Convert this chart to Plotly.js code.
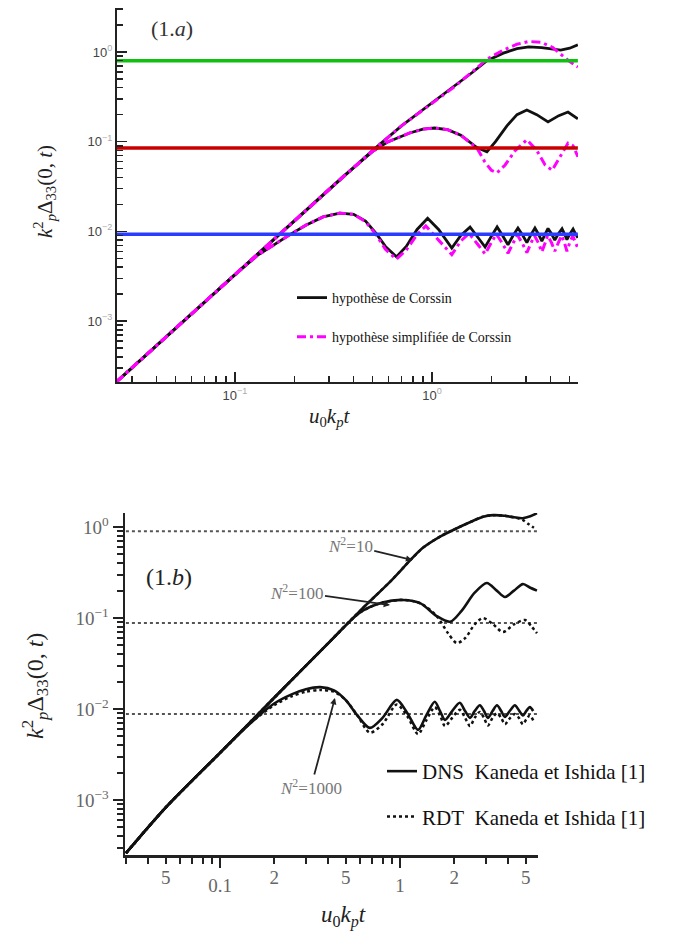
<!DOCTYPE html>
<html><head><meta charset="utf-8">
<script src="https://cdn.plot.ly/plotly-3.0.1.min.js"></script>
<style>html,body{margin:0;padding:0;background:#fff;}#chart{width:678px;height:946px;}</style>
</head><body><div id="chart"></div>
<script>
// ---------- (1.a) data ----------
const aSpan = [0.025, 5.5];
const aLevels = [0.8, 0.085, 0.0093];            // green, red, blue asymptotes

const aX10 = [0.025, 0.05, 0.1, 0.2, 0.35, 0.5, 0.7, 1.0, 1.3, 1.6, 1.9, 2.3, 2.7, 3.1, 3.6, 4.1, 4.5, 5.0, 5.5];
const aCor10 = [2.1e-4, 8.3e-4, 3.3e-3, 0.0133, 0.04, 0.08, 0.15, 0.27, 0.41, 0.59, 0.8, 0.97, 1.09, 1.14, 1.12, 1.07, 1.05, 1.1, 1.2];
const aSim10 = [2.1e-4, 8.3e-4, 3.3e-3, 0.0133, 0.04, 0.08, 0.15, 0.27, 0.41, 0.6, 0.83, 1.05, 1.22, 1.31, 1.28, 1.12, 0.95, 0.78, 0.68];

const aX100c = [0.025, 0.05, 0.1, 0.2, 0.35, 0.5, 0.6, 0.77, 0.9, 1.03, 1.2, 1.4, 1.55, 1.69, 1.9, 2.1, 2.4, 2.7, 3.03, 3.4, 3.88, 4.4, 4.9, 5.5];
const aCor100 = [2.1e-4, 8.3e-4, 3.3e-3, 0.0133, 0.04, 0.078, 0.1, 0.125, 0.138, 0.142, 0.136, 0.118, 0.1, 0.086, 0.077, 0.1, 0.15, 0.2, 0.225, 0.2, 0.166, 0.195, 0.214, 0.18];
const aX100s = [0.025, 0.05, 0.1, 0.2, 0.35, 0.5, 0.6, 0.77, 0.9, 1.03, 1.2, 1.4, 1.55, 1.69, 1.85, 2.0, 2.14, 2.35, 2.65, 3.03, 3.4, 3.75, 4.07, 4.4, 4.9, 5.2, 5.5];
const aSim100 = [2.1e-4, 8.3e-4, 3.3e-3, 0.0133, 0.04, 0.078, 0.1, 0.125, 0.138, 0.142, 0.136, 0.118, 0.1, 0.085, 0.06, 0.048, 0.045, 0.055, 0.08, 0.105, 0.08, 0.055, 0.048, 0.065, 0.096, 0.09, 0.068];

const aX1000c = [0.025, 0.05, 0.1, 0.13, 0.16, 0.19, 0.23, 0.28, 0.34, 0.4, 0.46, 0.52, 0.58, 0.66, 0.74, 0.84, 0.95, 1.08, 1.26, 1.4, 1.56, 1.72, 1.86, 2.0, 2.14, 2.28, 2.43, 2.58, 2.73, 2.88, 3.03, 3.18, 3.33, 3.47, 3.61, 3.75, 3.88, 4.04, 4.2, 4.38, 4.57, 4.7, 4.84, 5.0, 5.2, 5.35, 5.5];
const aCor1000 = [2.1e-4, 8.3e-4, 3.3e-3, 5.4e-3, 7.3e-3, 9.2e-3, 0.0118, 0.0145, 0.016, 0.0155, 0.013, 0.0095, 0.0068, 0.0052, 0.0068, 0.0105, 0.014, 0.0105, 0.0065, 0.009, 0.0112, 0.0085, 0.0067, 0.0088, 0.0112, 0.009, 0.0071, 0.009, 0.0109, 0.0091, 0.0075, 0.0092, 0.0109, 0.0093, 0.0078, 0.0093, 0.0108, 0.0094, 0.008, 0.0094, 0.0107, 0.0094, 0.0081, 0.0093, 0.0106, 0.0094, 0.0085];
const aX1000s = [0.025, 0.05, 0.1, 0.13, 0.16, 0.19, 0.23, 0.28, 0.34, 0.4, 0.46, 0.52, 0.58, 0.66, 0.74, 0.84, 0.93, 1.08, 1.26, 1.4, 1.54, 1.72, 1.86, 2.0, 2.12, 2.28, 2.43, 2.58, 2.71, 2.88, 3.03, 3.18, 3.31, 3.47, 3.61, 3.75, 3.86, 4.04, 4.2, 4.38, 4.55, 4.7, 4.84, 5.0, 5.18, 5.35, 5.5];
const aSim1000 = [2.1e-4, 8.3e-4, 3.3e-3, 5.4e-3, 7.3e-3, 9.2e-3, 0.0118, 0.0145, 0.016, 0.0155, 0.0128, 0.0092, 0.0063, 0.0049, 0.0062, 0.0092, 0.0115, 0.008, 0.0055, 0.0078, 0.0095, 0.007, 0.0056, 0.0075, 0.0093, 0.0073, 0.0057, 0.0074, 0.0091, 0.0073, 0.0058, 0.0074, 0.009, 0.0074, 0.0059, 0.0074, 0.009, 0.0075, 0.006, 0.0075, 0.009, 0.0075, 0.006, 0.0075, 0.0089, 0.0075, 0.0065];

const aTickVals = [0.1, 1];
const aTickText = ['10<sup><span style="color:#aaa">−1</span></sup>', '10<sup><span style="color:#aaa">0</span></sup>'];
const aYTickVals = [0.001, 0.01, 0.1, 1];
const aYTickText = ['10<sup><span style="color:#aaa">−3</span></sup>', '10<sup><span style="color:#aaa">−2</span></sup>', '10<sup><span style="color:#aaa">−1</span></sup>', '10<sup><span style="color:#aaa">0</span></sup>'];

// ---------- (1.b) data ----------
const bSpan = [0.03, 5.8];
const bLevels = [0.9, 0.088, 0.0088];

const bX10 = [0.03, 0.05, 0.1, 0.2, 0.4, 0.6, 0.88, 1.34, 1.7, 2.07, 2.5, 2.9, 3.3, 3.8, 4.3, 4.8, 5.3, 5.77];
const bDns10 = [2.6e-4, 8.3e-4, 3.3e-3, 0.0133, 0.053, 0.12, 0.25, 0.59, 0.8, 0.97, 1.15, 1.3, 1.35, 1.33, 1.28, 1.25, 1.31, 1.42];
const bXr10 = [0.03, 0.05, 0.1, 0.2, 0.4, 0.6, 0.88, 1.34, 1.7, 2.07, 2.5, 2.9, 3.3, 3.8, 4.3, 4.8, 5.2, 5.55];
const bRdt10 = [2.6e-4, 8.3e-4, 3.3e-3, 0.0133, 0.053, 0.12, 0.25, 0.59, 0.8, 0.97, 1.15, 1.3, 1.35, 1.33, 1.28, 1.2, 1.07, 0.98];

const bX100 = [0.03, 0.05, 0.1, 0.2, 0.4, 0.6, 0.8, 1.04, 1.3, 1.6, 1.9, 2.2, 2.6, 3.04, 3.45, 3.83, 4.3, 4.82, 5.3, 5.77];
const bDns100 = [2.6e-4, 8.3e-4, 3.3e-3, 0.0133, 0.053, 0.115, 0.148, 0.158, 0.145, 0.105, 0.091, 0.12, 0.19, 0.243, 0.2, 0.17, 0.2, 0.236, 0.215, 0.2];
const bXr100 = [0.03, 0.05, 0.1, 0.2, 0.4, 0.6, 0.8, 1.04, 1.3, 1.6, 1.85, 2.07, 2.3, 2.6, 2.89, 3.3, 3.73, 4.3, 4.95, 5.4, 5.77];
const bRdt100 = [2.6e-4, 8.3e-4, 3.3e-3, 0.0133, 0.053, 0.115, 0.148, 0.158, 0.145, 0.105, 0.068, 0.053, 0.06, 0.085, 0.1, 0.085, 0.07, 0.085, 0.095, 0.08, 0.068];

const bX1000 = [0.03, 0.05, 0.1, 0.15, 0.2, 0.25, 0.3, 0.36, 0.43, 0.5, 0.58, 0.68, 0.8, 0.96, 1.1, 1.26, 1.4, 1.56, 1.67, 1.78, 1.95, 2.15, 2.3, 2.45, 2.6, 2.78, 2.93, 3.08, 3.27, 3.46, 3.65, 3.83, 4.1, 4.35, 4.58, 4.82, 5.05, 5.27, 5.5];
const bDns1000 = [2.6e-4, 8.3e-4, 3.3e-3, 7.2e-3, 0.0115, 0.0145, 0.0165, 0.0174, 0.016, 0.0125, 0.0085, 0.0062, 0.008, 0.0126, 0.009, 0.0059, 0.0085, 0.012, 0.0095, 0.0076, 0.0095, 0.0117, 0.0095, 0.008, 0.0095, 0.011, 0.0095, 0.008, 0.0095, 0.011, 0.0095, 0.0082, 0.0097, 0.011, 0.0097, 0.0085, 0.0096, 0.0105, 0.0095];
const bRdt1000 = [2.6e-4, 8.3e-4, 3.3e-3, 7.2e-3, 0.011, 0.0138, 0.0155, 0.0162, 0.0155, 0.0125, 0.0085, 0.0055, 0.0068, 0.0112, 0.0083, 0.0053, 0.0075, 0.0105, 0.0085, 0.0065, 0.008, 0.0098, 0.008, 0.0065, 0.008, 0.0093, 0.008, 0.0066, 0.008, 0.009, 0.008, 0.0068, 0.008, 0.0088, 0.008, 0.0068, 0.0078, 0.0085, 0.0075];

const bMajorX = [0.1, 1];
const bMajorXText = ['0.1', '1'];
const bMinorLabX = [0.05, 0.2, 0.5, 2, 5];
const bMinorLabText = ['5', '2', '5', '2', '5'];
const bYTickVals = [0.001, 0.01, 0.1, 1];
const bYTickText = ['10<sup>−3</sup>', '10<sup>−2</sup>', '10<sup>−1</sup>', '10<sup>0</sup>'];

// minor tick positions (2..9 in each decade)
function minors(d0, d1) {
  const v = [];
  for (let d = d0; d <= d1; d++) for (let m = 2; m <= 9; m++) v.push(m * Math.pow(10, d));
  return v;
}

const BLK = '#111', MAG = '#ff00ff';
const traces = [];
// (1.a) curves
const aPairs = [[aX10, aCor10, aX10, aSim10], [aX100c, aCor100, aX100s, aSim100], [aX1000c, aCor1000, aX1000s, aSim1000]];
aPairs.forEach((p, i) => {
  traces.push({x: p[0], y: p[1], xaxis: 'x', yaxis: 'y', mode: 'lines', line: {color: BLK, width: 2.8},
    name: 'hypothèse de Corssin', legend: 'legend', legendgroup: 'c', showlegend: i === 0});
});
aPairs.forEach((p, i) => {
  traces.push({x: p[2], y: p[3], xaxis: 'x', yaxis: 'y', mode: 'lines', line: {color: MAG, width: 3, dash: '9px,4px,3px,4px'},
    name: 'hypothèse simplifiée de Corssin', legend: 'legend', legendgroup: 's', showlegend: i === 0});
});
const aLevelColors = ['#10c010', '#c80000', '#2a3cff'];
aLevels.forEach((lv, i) => {
  traces.push({x: aSpan, y: [lv, lv], xaxis: 'x', yaxis: 'y', mode: 'lines', line: {color: aLevelColors[i], width: 3.5}, showlegend: false, hoverinfo: 'skip'});
});

// (1.b) curves
bLevels.forEach((lv) => {
  traces.push({x: bSpan, y: [lv, lv], xaxis: 'x2', yaxis: 'y2', mode: 'lines', line: {color: '#555', width: 2, dash: 'dot'}, showlegend: false, hoverinfo: 'skip'});
});
[[bX10, bDns10], [bX100, bDns100], [bX1000, bDns1000]].forEach((p, i) => {
  traces.push({x: p[0], y: p[1], xaxis: 'x2', yaxis: 'y2', mode: 'lines', line: {color: BLK, width: 2.6, shape: 'spline', smoothing: 0.8},
    name: 'DNS&nbsp;&nbsp;Kaneda et Ishida [1]', legend: 'legend2', legendgroup: 'd', showlegend: i === 0});
});
[[bXr10, bRdt10], [bXr100, bRdt100], [bX1000, bRdt1000]].forEach((p, i) => {
  traces.push({x: p[0], y: p[1], xaxis: 'x2', yaxis: 'y2', mode: 'lines', line: {color: BLK, width: 2.5, dash: 'dot', shape: 'spline', smoothing: 0.8},
    name: 'RDT&nbsp;&nbsp;Kaneda et Ishida [1]', legend: 'legend2', legendgroup: 'r', showlegend: i === 0});
});
// helper invisible trace for extra x-axis labels
traces.push({x: bSpan, y: [0.01, 0.01], xaxis: 'x3', yaxis: 'y2', mode: 'lines', line: {width: 0}, opacity: 0, showlegend: false, hoverinfo: 'skip'});

const W = 678, H = 946;
const px = v => v / W, py = v => 1 - v / H;
const serif = '"Liberation Serif", serif';
const sans = '"Liberation Sans", sans-serif';

function label(x, y, text, size, color, angle) {
  return {xref: 'paper', yref: 'paper', x: px(x), y: py(y), xanchor: 'center', yanchor: 'middle', text: text,
    showarrow: false, textangle: angle || 0, font: {family: serif, size: size, color: color}};
}

const layout = {
  width: W, height: H, margin: {l: 0, r: 0, t: 0, b: 0}, paper_bgcolor: '#fff', plot_bgcolor: 'rgba(0,0,0,0)',
  showlegend: true,
  xaxis: {type: 'log', domain: [px(117), px(578)], range: [-1.599, 0.741], anchor: 'y', showgrid: false, zeroline: false,
    showline: true, linecolor: '#222', linewidth: 2, ticks: 'inside', ticklen: 10, tickwidth: 1.5, tickcolor: '#222',
    tickmode: 'array', tickvals: aTickVals, ticktext: aTickText, tickfont: {family: sans, size: 13, color: '#444'},
    minor: {tickmode: 'array', tickvals: minors(-2, 0), ticks: 'inside', ticklen: 6, tickwidth: 1.5, tickcolor: '#222', showgrid: false}},
  yaxis: {type: 'log', domain: [py(382), py(8)], range: [-3.679, 0.49], anchor: 'x', showgrid: false, zeroline: false,
    showline: true, linecolor: '#222', linewidth: 2, ticks: 'inside', ticklen: 10, tickwidth: 1.5, tickcolor: '#222',
    tickmode: 'array', tickvals: aYTickVals, ticktext: aYTickText, tickfont: {family: sans, size: 13, color: '#444'},
    minor: {tickmode: 'array', tickvals: minors(-4, 0), ticks: 'inside', ticklen: 6, tickwidth: 1.5, tickcolor: '#222', showgrid: false}},
  xaxis2: {type: 'log', domain: [px(125), px(538)], range: [-1.528, 0.767], anchor: 'y2', showgrid: false, zeroline: false,
    showline: true, linecolor: '#222', linewidth: 2.5, ticks: 'outside', ticklen: 10, tickwidth: 2, tickcolor: '#222',
    tickmode: 'array', tickvals: bMajorX, ticktext: bMajorXText, ticklabelstandoff: 2, tickfont: {family: serif, size: 19, color: '#666'},
    minor: {tickmode: 'array', tickvals: minors(-2, 0), ticks: 'outside', ticklen: 6, tickwidth: 2, tickcolor: '#222', showgrid: false}},
  xaxis3: {type: 'log', overlaying: 'x2', range: [-1.528, 0.767], anchor: 'y2', showgrid: false, zeroline: false, showline: false,
    ticks: '', tickmode: 'array', tickvals: bMinorLabX, ticktext: bMinorLabText, ticklabelstandoff: 9, tickfont: {family: serif, size: 19, color: '#666'}},
  yaxis2: {type: 'log', domain: [py(855), py(513)], range: [-3.604, 0.154], anchor: 'x2', showgrid: false, zeroline: false,
    showline: true, linecolor: '#222', linewidth: 2.5, ticks: 'outside', ticklen: 10, tickwidth: 2, tickcolor: '#222',
    tickmode: 'array', tickvals: bYTickVals, ticktext: bYTickText, tickfont: {family: serif, size: 19, color: '#666'},
    minor: {tickmode: 'array', tickvals: minors(-4, 0), ticks: 'outside', ticklen: 6, tickwidth: 2, tickcolor: '#222', showgrid: false}},
  legend: {x: px(292), y: py(282), xanchor: 'left', yanchor: 'top', bgcolor: 'rgba(0,0,0,0)', font: {family: serif, size: 14, color: '#111'},
    traceorder: 'grouped', tracegroupgap: 18, itemwidth: 30},
  legend2: {x: px(382), y: py(751), xanchor: 'left', yanchor: 'top', bgcolor: 'rgba(0,0,0,0)', font: {family: serif, size: 21, color: '#111'},
    traceorder: 'grouped', tracegroupgap: 15, itemwidth: 30},
  annotations: [
    label(172, 28, '(1.<i>a</i>)', 22, '#333'),
    label(169, 577, '(1.<i>b</i>)', 24, '#222'),
    label(45, 192, '<i>k</i><sup>2</sup><sub><i>p</i></sub>Δ<sub>33</sub>(0, <i>t</i>)', 21, '#222', -90),
    label(35, 686, '<i>k</i><sup>2</sup><sub><i>p</i></sub>Δ<sub>33</sub>(0, <i>t</i>)', 24, '#222', -90),
    label(330, 417, '<i>u</i><sub>0</sub><i>k</i><sub><i>p</i></sub><i>t</i>', 21, '#222'),
    label(343, 916, '<i>u</i><sub>0</sub><i>k</i><sub><i>p</i></sub><i>t</i>', 23, '#222'),
    {xref: 'x2', yref: 'y2', x: Math.log10(1.17), y: Math.log10(0.434), axref: 'pixel', ayref: 'pixel', ax: -62, ay: -15,
      text: '<i>N</i><sup>2</sup>=10', showarrow: true, arrowhead: 2, arrowsize: 0.7, arrowwidth: 1.8, arrowcolor: '#222', font: {family: serif, size: 17, color: '#777'}},
    {xref: 'x2', yref: 'y2', x: Math.log10(0.88), y: Math.log10(0.139), axref: 'pixel', ayref: 'pixel', ax: -93, ay: -13,
      text: '<i>N</i><sup>2</sup>=100', showarrow: true, arrowhead: 2, arrowsize: 0.7, arrowwidth: 1.8, arrowcolor: '#222', font: {family: serif, size: 17, color: '#777'}},
    {xref: 'x2', yref: 'y2', x: Math.log10(0.435), y: Math.log10(0.0132), axref: 'pixel', ayref: 'pixel', ax: -24, ay: 89,
      text: '<i>N</i><sup>2</sup>=1000', showarrow: true, arrowhead: 2, arrowsize: 0.7, arrowwidth: 1.8, arrowcolor: '#222', font: {family: serif, size: 17, color: '#777'}}
  ]
};

Plotly.newPlot('chart', traces, layout, {displayModeBar: false, staticPlot: true});
</script></body></html>
